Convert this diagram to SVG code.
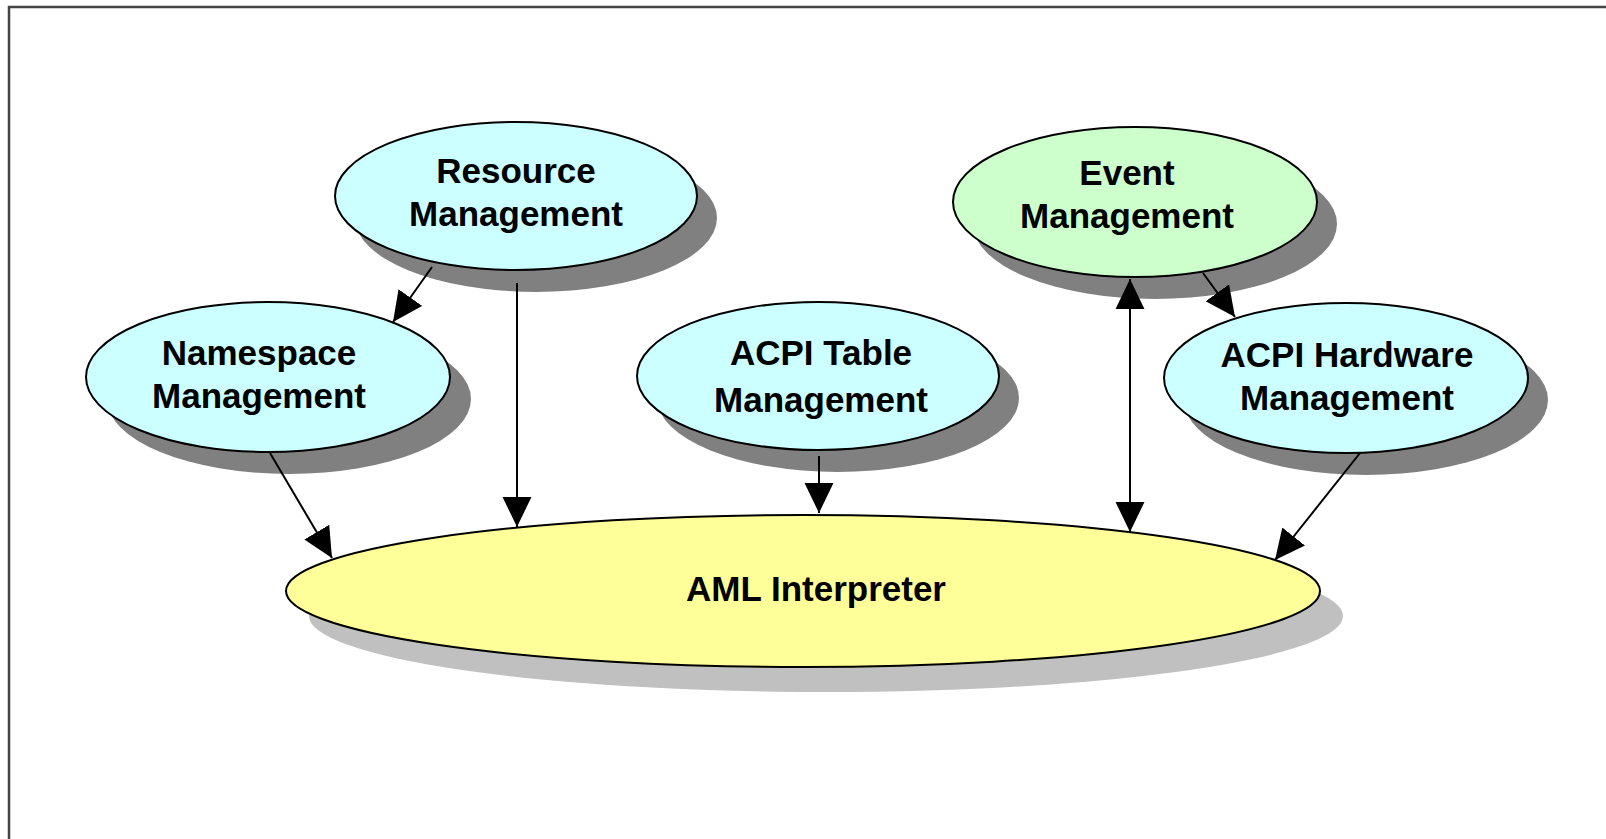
<svg xmlns="http://www.w3.org/2000/svg" width="1606" height="839" viewBox="0 0 1606 839">
<style>
.lbl{font-family:"Liberation Sans",Arial,sans-serif;font-weight:bold;font-size:35px;fill:#000;text-anchor:middle}
.sh{fill:#808080}
.sh2{fill:#c0c0c0}
.node{stroke:#000;stroke-width:2}
.blue{fill:#ccffff}
.green{fill:#ccffcc}
.yellow{fill:#ffff99}
.conn{stroke:#000;stroke-width:2;fill:none}
.frame{stroke:#444;stroke-width:2.5;fill:none}
</style>
<defs>
<marker id="ah" markerUnits="userSpaceOnUse" markerWidth="30" markerHeight="30" viewBox="0 0 28 27" refX="28" refY="13.5" orient="auto-start-reverse">
<path d="M0,0 L28,13.5 L0,27 z" fill="#000"/>
</marker>
</defs>
<rect width="1606" height="839" fill="#fff"/>
<path class="frame" d="M9,839 L9,7 L1606,7"/>
<g id="aml">
<ellipse class="sh2" cx="826" cy="616" rx="517" ry="76"/>
<ellipse class="node yellow" cx="803" cy="591" rx="517" ry="76"/>
<text class="lbl" x="816" y="601">AML Interpreter</text>
</g>
<g id="resource">
<ellipse class="sh" cx="536" cy="218" rx="181" ry="74"/>
<ellipse class="node blue" cx="516" cy="196" rx="181" ry="74"/>
<text class="lbl" x="516" y="183">Resource</text>
<text class="lbl" x="516" y="226">Management</text>
</g>
<g id="namespace">
<ellipse class="sh" cx="289" cy="399" rx="182" ry="75"/>
<ellipse class="node blue" cx="268" cy="377" rx="182" ry="75"/>
<text class="lbl" x="259" y="365">Namespace</text>
<text class="lbl" x="259" y="408">Management</text>
</g>
<g id="acpitable">
<ellipse class="sh" cx="838" cy="398" rx="181" ry="74"/>
<ellipse class="node blue" cx="818" cy="376" rx="181" ry="74"/>
<text class="lbl" x="821" y="365">ACPI Table</text>
<text class="lbl" x="821" y="412">Management</text>
</g>
<g id="event">
<ellipse class="sh" cx="1155" cy="224" rx="182" ry="75"/>
<ellipse class="node green" cx="1135" cy="202" rx="182" ry="75"/>
<text class="lbl" x="1127" y="185">Event</text>
<text class="lbl" x="1127" y="228">Management</text>
</g>
<g id="acpihw">
<ellipse class="sh" cx="1366" cy="400" rx="182" ry="75"/>
<ellipse class="node blue" cx="1346" cy="378" rx="182" ry="75"/>
<text class="lbl" x="1347" y="367">ACPI Hardware</text>
<text class="lbl" x="1347" y="410">Management</text>
</g>
<g id="connectors">
<line class="conn" x1="432" y1="267" x2="393" y2="322" marker-end="url(#ah)"/>
<line class="conn" x1="517" y1="283" x2="517" y2="527" marker-end="url(#ah)"/>
<line class="conn" x1="270" y1="453" x2="332" y2="558" marker-end="url(#ah)"/>
<line class="conn" x1="819" y1="456" x2="819" y2="513" marker-end="url(#ah)"/>
<line class="conn" x1="1130" y1="279" x2="1130" y2="532" marker-start="url(#ah)" marker-end="url(#ah)"/>
<line class="conn" x1="1203" y1="273" x2="1235" y2="317" marker-end="url(#ah)"/>
<line class="conn" x1="1360" y1="453" x2="1275" y2="560" marker-end="url(#ah)"/>
</g>
</svg>
